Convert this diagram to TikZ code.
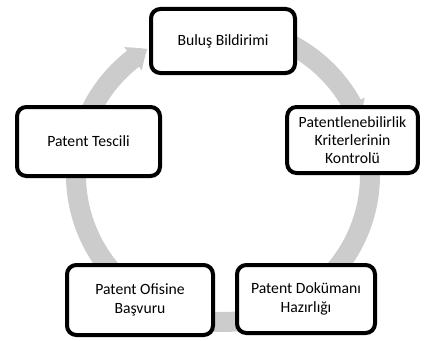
\documentclass[tikz,border=0pt]{standalone}
\usepackage{fontspec}
\setmainfont{Carlito}
\usetikzlibrary{arrows.meta,bending}
\definecolor{ringgray}{RGB}{204,204,204}
\tikzset{
  stage/.style={draw=black, line width=3pt, rounded corners=7pt, fill=white,
    align=center, inner sep=0pt, font=\fontsize{11.75}{13.75}\selectfont},
  cyclearrow/.style={draw=ringgray, line width=15pt,
    -{Triangle[width=21pt,length=13pt,bend]}}
}
\begin{document}
\begin{tikzpicture}[x=0.75pt, y=0.75pt]
\useasboundingbox (0,0) rectangle (428,340);
\coordinate (hub) at (223,165);
% gray cycle arrows, clockwise
\draw[cyclearrow] ([shift={(160:110.25pt)}]hub) arc[start angle=160, end angle=121, radius=110.25pt];
\draw[cyclearrow] ([shift={(80:110.25pt)}]hub) arc[start angle=80, end angle=22, radius=110.25pt];
\draw[cyclearrow] ([shift={(10:110.25pt)}]hub) arc[start angle=10, end angle=-52, radius=110.25pt];
\draw[cyclearrow] ([shift={(-60:110.25pt)}]hub) arc[start angle=-60, end angle=-120, radius=110.25pt];
\draw[cyclearrow] ([shift={(-128:110.25pt)}]hub) arc[start angle=-128, end angle=-188, radius=110.25pt];
% stages
\node[stage, minimum width=108pt, minimum height=48pt] (bildirim) at (223,299) {Buluş Bildirimi};
\node[stage, minimum width=98pt, minimum height=49.5pt] (kriter) at (352.5,200) {Patentlenebilirlik\\Kriterlerinin\\Kontrolü};
\node[stage, minimum width=103.5pt, minimum height=51pt] (dokuman) at (306,41) {Patent Dokümanı\\Hazırlığı};
\node[stage, minimum width=109.5pt, minimum height=52.5pt] (basvuru) at (140,40) {Patent Ofisine\\Başvuru};
\node[stage, minimum width=107.25pt, minimum height=51.75pt] (tescil) at (88.5,198.5) {Patent Tescili};
\end{tikzpicture}
\end{document}
